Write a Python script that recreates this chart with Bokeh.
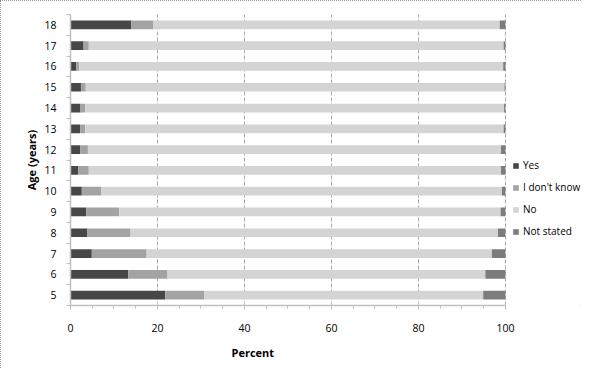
from bokeh.plotting import figure
from bokeh.models import ColumnDataSource, FixedTicker, Legend, LegendItem, Title
from bokeh.embed import file_html
from bokeh.resources import INLINE

ages = [5, 6, 7, 8, 9, 10, 11, 12, 13, 14, 15, 16, 17, 18]
yes = [21.8, 13.3, 4.9, 3.9, 3.6, 2.6, 1.8, 2.2, 2.2, 2.3, 2.4, 1.3, 3.0, 14.0]
dont_know = [8.9, 9.0, 12.6, 9.9, 7.6, 4.5, 2.4, 1.8, 1.2, 1.1, 1.1, 0.7, 1.2, 5.1]
no = [64.2, 73.1, 79.4, 84.5, 87.7, 92.1, 94.8, 95.0, 96.2, 96.3, 96.3, 97.5, 95.4, 79.6]
not_stated = [5.1, 4.6, 3.1, 1.7, 1.1, 0.8, 1.0, 1.0, 0.4, 0.3, 0.2, 0.5, 0.4, 1.3]
series = ["Yes", "I don't know", "No", "Not stated"]
x_ticks = [0, 20, 40, 60, 80, 100]

colors = ["#474747", "#a3a3a3", "#d4d4d4", "#7c7c7c"]
keys = ["yes", "dk", "no", "ns"]

source = ColumnDataSource(dict(age=ages, yes=yes, dk=dont_know, no=no, ns=not_stated))

FONT = "Open Sans"

p = figure(width=581, height=368, x_range=(0, 117.5), y_range=(4.5, 18.5),
           output_backend="svg", toolbar_location=None,
           min_border_left=70, min_border_right=0, min_border_top=14, min_border_bottom=10)
p.outline_line_color = None
p.background_fill_color = "white"
p.border_fill_color = "white"
p.styles = {"outline": "1px dotted #777777", "outline-offset": "-1px"}

renderers = p.hbar_stack(keys, y="age", height=0.42, color=colors, line_color=None, source=source)

# axes
p.xaxis.ticker = FixedTicker(ticks=x_ticks, minor_ticks=list(range(0, 101, 5)))
p.xaxis.bounds = (0, 100)
p.yaxis.ticker = FixedTicker(ticks=ages, minor_ticks=[a - 0.5 for a in ages] + [18.5])
for ax in (p.xaxis[0], p.yaxis[0]):
    ax.axis_line_color = "#bfbfbf"
    ax.axis_line_width = 1.5
    ax.major_label_text_font = FONT
    ax.major_label_text_font_size = "10.5px"
    ax.major_label_text_color = "#000000"
    ax.axis_label_text_font = FONT
    ax.axis_label_text_font_style = "bold"
    ax.axis_label_text_font_size = "11px"
    ax.axis_label_text_color = "#000000"
    ax.minor_tick_line_color = "#bfbfbf"
    ax.major_tick_line_color = "#bfbfbf"

p.xaxis.major_tick_in = 4
p.xaxis.major_tick_out = 4
p.xaxis.minor_tick_in = 0
p.xaxis.minor_tick_out = 3
p.xaxis.major_label_standoff = 14

p.add_layout(Title(text="Percent", align="left", offset=161, text_font=FONT,
                   text_font_size="11px", text_font_style="bold", text_color="#000000",
                   standoff=17), "below")

p.yaxis.axis_label = "Age (years)"
p.yaxis.major_tick_line_color = None
p.yaxis.minor_tick_in = 0
p.yaxis.minor_tick_out = 4
p.yaxis.major_label_standoff = 8
p.yaxis.axis_label_standoff = 2

p.ygrid.grid_line_color = None
p.xgrid.ticker = FixedTicker(ticks=[20, 40, 60, 80, 100])
p.xgrid.grid_line_color = "#a8a8a8"
p.xgrid.grid_line_dash = "4 2"
p.xgrid.grid_line_width = 1

legend = Legend(items=[LegendItem(label=s, renderers=[r]) for s, r in zip(series, renderers)],
                location=(442, 67))
legend.border_line_color = None
legend.background_fill_alpha = 0
legend.padding = 0
legend.margin = 0
legend.glyph_width = 7
legend.glyph_height = 7
legend.label_height = 14
legend.spacing = 8
legend.label_standoff = 4
legend.label_text_font = FONT
legend.label_text_font_size = "10px"
legend.label_text_color = "#000000"
p.add_layout(legend, "center")

open("out.html", "w").write(file_html(p, INLINE))
